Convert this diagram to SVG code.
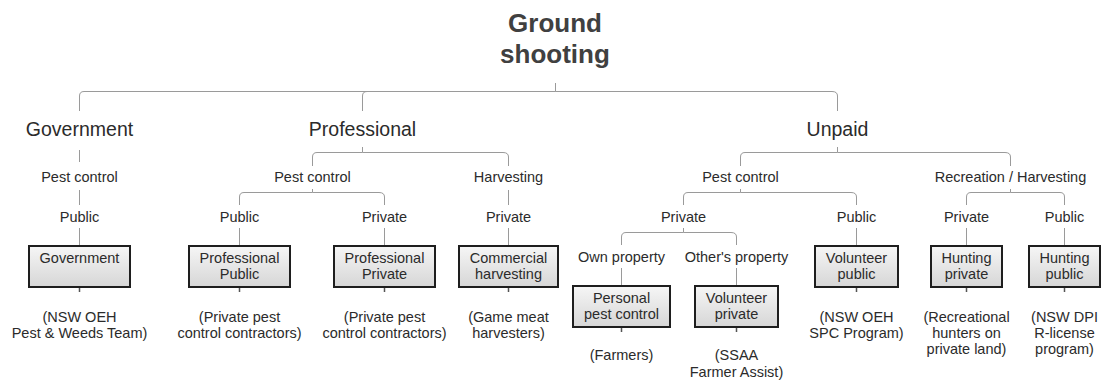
<svg xmlns="http://www.w3.org/2000/svg" width="1103" height="383" viewBox="0 0 1103 383">
<defs>
<linearGradient id="boxfill" x1="0" y1="0" x2="0" y2="1">
<stop offset="0" stop-color="#f6f6f6"/>
<stop offset="1" stop-color="#d6d6d6"/>
</linearGradient>
<style>
text{font-family:"Liberation Sans",Arial,sans-serif;fill:#2b2b2b;text-anchor:middle}
.title{font-size:26px;font-weight:bold;fill:#404040}
.l1{font-size:19.5px}
.lab{font-size:14.5px}
.box{fill:url(#boxfill);stroke:#1e1e1e;stroke-width:2}
.conn{fill:none;stroke:#9a9a9a;stroke-width:1}
.tick{fill:none;stroke:#555;stroke-width:1.5}
</style>
</defs>
<rect width="1103" height="383" fill="#ffffff"/>

<g id="connectors">
<path class="conn" d="M555.5,83 V91.5"/>
<path class="conn" d="M555.5,91.5 H84 Q79.5,91.5 79.5,96 V111"/>
<path class="conn" d="M555.5,91.5 H367 Q362.5,91.5 362.5,96 V111"/>
<path class="conn" d="M555.5,91.5 H832 Q837.5,91.5 837.5,96 V111"/>

<path class="conn" d="M79.5,150 V162"/>
<path class="conn" d="M79.5,190 V205"/>
<path class="conn" d="M79.5,228 V246"/>

<path class="conn" d="M362.5,147 V152.5"/>
<path class="conn" d="M362.5,152.5 H317 Q312.5,152.5 312.5,157 V166"/>
<path class="conn" d="M362.5,152.5 H503 Q508.5,152.5 508.5,157 V166"/>
<path class="conn" d="M312.5,189 V192.5"/>
<path class="conn" d="M312.5,192.5 H244 Q239.5,192.5 239.5,197 V205"/>
<path class="conn" d="M312.5,192.5 H379 Q384.5,192.5 384.5,197 V205"/>
<path class="conn" d="M239.5,228 V246"/>
<path class="conn" d="M384.5,228 V246"/>
<path class="conn" d="M508.5,190 V205"/>
<path class="conn" d="M508.5,228 V246"/>

<path class="conn" d="M837.5,147 V152.5"/>
<path class="conn" d="M837.5,152.5 H745 Q740.5,152.5 740.5,157 V166"/>
<path class="conn" d="M837.5,152.5 H1005 Q1010.5,152.5 1010.5,157 V166"/>
<path class="conn" d="M740.5,189 V192.5"/>
<path class="conn" d="M740.5,192.5 H688 Q683.5,192.5 683.5,197 V205"/>
<path class="conn" d="M740.5,192.5 H851 Q856.5,192.5 856.5,197 V205"/>
<path class="conn" d="M683.5,228 V232.5"/>
<path class="conn" d="M683.5,232.5 H626 Q621.5,232.5 621.5,237 V245"/>
<path class="conn" d="M683.5,232.5 H731 Q736.5,232.5 736.5,237 V245"/>
<path class="conn" d="M621.5,268 V286"/>
<path class="conn" d="M736.5,268 V286"/>
<path class="conn" d="M856.5,228 V246"/>
<path class="conn" d="M1010.5,189 V192.5"/>
<path class="conn" d="M1010.5,192.5 H971 Q966.5,192.5 966.5,197 V205"/>
<path class="conn" d="M1010.5,192.5 H1060 Q1064.5,192.5 1064.5,197 V205"/>
<path class="conn" d="M966.5,228 V246"/>
<path class="conn" d="M1064.5,228 V246"/>

<path class="tick" d="M79.5,288 V292 M239.5,288 V292 M384.5,288 V292 M508.5,288 V292 M856.5,288 V292 M966.5,288 V292 M1064.5,288 V292 M621.5,328 V332 M736.5,328 V332"/>
</g>

<g id="root"><text class="title" x="555" y="32">Ground</text><text class="title" x="555" y="63">shooting</text></g>

<g id="government"><text class="l1" x="79.5" y="136">Government</text></g>
<g id="professional"><text class="l1" x="362.5" y="136">Professional</text></g>
<g id="unpaid"><text class="l1" x="837.5" y="136">Unpaid</text></g>

<g id="gov-pest"><text class="lab" x="79.5" y="182">Pest control</text></g>
<g id="gov-public"><text class="lab" x="79.5" y="222">Public</text></g>
<g id="box-government"><rect class="box" x="29" y="246" width="101" height="41"/><text class="lab" x="79.5" y="263">Government</text></g>
<g id="note-government"><text class="lab" x="79.5" y="322">(NSW OEH</text><text class="lab" x="79.5" y="338">Pest &amp; Weeds Team)</text></g>

<g id="prof-pest"><text class="lab" x="312.5" y="182">Pest control</text></g>
<g id="prof-harv"><text class="lab" x="508.5" y="182">Harvesting</text></g>
<g id="prof-public"><text class="lab" x="239.5" y="222">Public</text></g>
<g id="prof-private"><text class="lab" x="384.5" y="222">Private</text></g>
<g id="harv-private"><text class="lab" x="508.5" y="222">Private</text></g>
<g id="box-prof-public"><rect class="box" x="189" y="246" width="101" height="41"/><text class="lab" x="239.5" y="262.5">Professional</text><text class="lab" x="239.5" y="279">Public</text></g>
<g id="box-prof-private"><rect class="box" x="334" y="246" width="101" height="41"/><text class="lab" x="384.5" y="262.5">Professional</text><text class="lab" x="384.5" y="279">Private</text></g>
<g id="box-commercial"><rect class="box" x="459" y="246" width="99" height="41"/><text class="lab" x="508.5" y="262.5">Commercial</text><text class="lab" x="508.5" y="279">harvesting</text></g>
<g id="note-prof-public"><text class="lab" x="239.5" y="322">(Private pest</text><text class="lab" x="239.5" y="338">control contractors)</text></g>
<g id="note-prof-private"><text class="lab" x="384.5" y="322">(Private pest</text><text class="lab" x="384.5" y="338">control contractors)</text></g>
<g id="note-commercial"><text class="lab" x="508.5" y="322">(Game meat</text><text class="lab" x="508.5" y="338">harvesters)</text></g>

<g id="unp-pest"><text class="lab" x="740.5" y="182">Pest control</text></g>
<g id="unp-rec"><text class="lab" x="1010.5" y="182">Recreation / Harvesting</text></g>
<g id="unp-private"><text class="lab" x="683.5" y="222">Private</text></g>
<g id="unp-public"><text class="lab" x="856.5" y="222">Public</text></g>
<g id="own-property"><text class="lab" x="621.5" y="262">Own property</text></g>
<g id="others-property"><text class="lab" x="736.5" y="262">Other's property</text></g>
<g id="box-personal"><rect class="box" x="573" y="286" width="97" height="41"/><text class="lab" x="621.5" y="302.5">Personal</text><text class="lab" x="621.5" y="319">pest control</text></g>
<g id="box-vol-private"><rect class="box" x="695" y="286" width="83" height="41"/><text class="lab" x="736.5" y="302.5">Volunteer</text><text class="lab" x="736.5" y="319">private</text></g>
<g id="note-personal"><text class="lab" x="621.5" y="360">(Farmers)</text></g>
<g id="note-vol-private"><text class="lab" x="736.5" y="360">(SSAA</text><text class="lab" x="736.5" y="376.5">Farmer Assist)</text></g>
<g id="box-vol-public"><rect class="box" x="815" y="246" width="83" height="41"/><text class="lab" x="856.5" y="262.5">Volunteer</text><text class="lab" x="856.5" y="279">public</text></g>
<g id="note-vol-public"><text class="lab" x="856.5" y="322">(NSW OEH</text><text class="lab" x="856.5" y="338">SPC Program)</text></g>

<g id="rec-private"><text class="lab" x="966.5" y="222">Private</text></g>
<g id="rec-public"><text class="lab" x="1064.5" y="222">Public</text></g>
<g id="box-hunt-private"><rect class="box" x="931" y="246" width="71" height="41"/><text class="lab" x="966.5" y="262.5">Hunting</text><text class="lab" x="966.5" y="279">private</text></g>
<g id="box-hunt-public"><rect class="box" x="1029" y="246" width="71" height="41"/><text class="lab" x="1064.5" y="262.5">Hunting</text><text class="lab" x="1064.5" y="279">public</text></g>
<g id="note-hunt-private"><text class="lab" x="966.5" y="322">(Recreational</text><text class="lab" x="966.5" y="338">hunters on</text><text class="lab" x="966.5" y="354">private land)</text></g>
<g id="note-hunt-public"><text class="lab" x="1064.5" y="322">(NSW DPI</text><text class="lab" x="1064.5" y="338">R-license</text><text class="lab" x="1064.5" y="354">program)</text></g>
</svg>
